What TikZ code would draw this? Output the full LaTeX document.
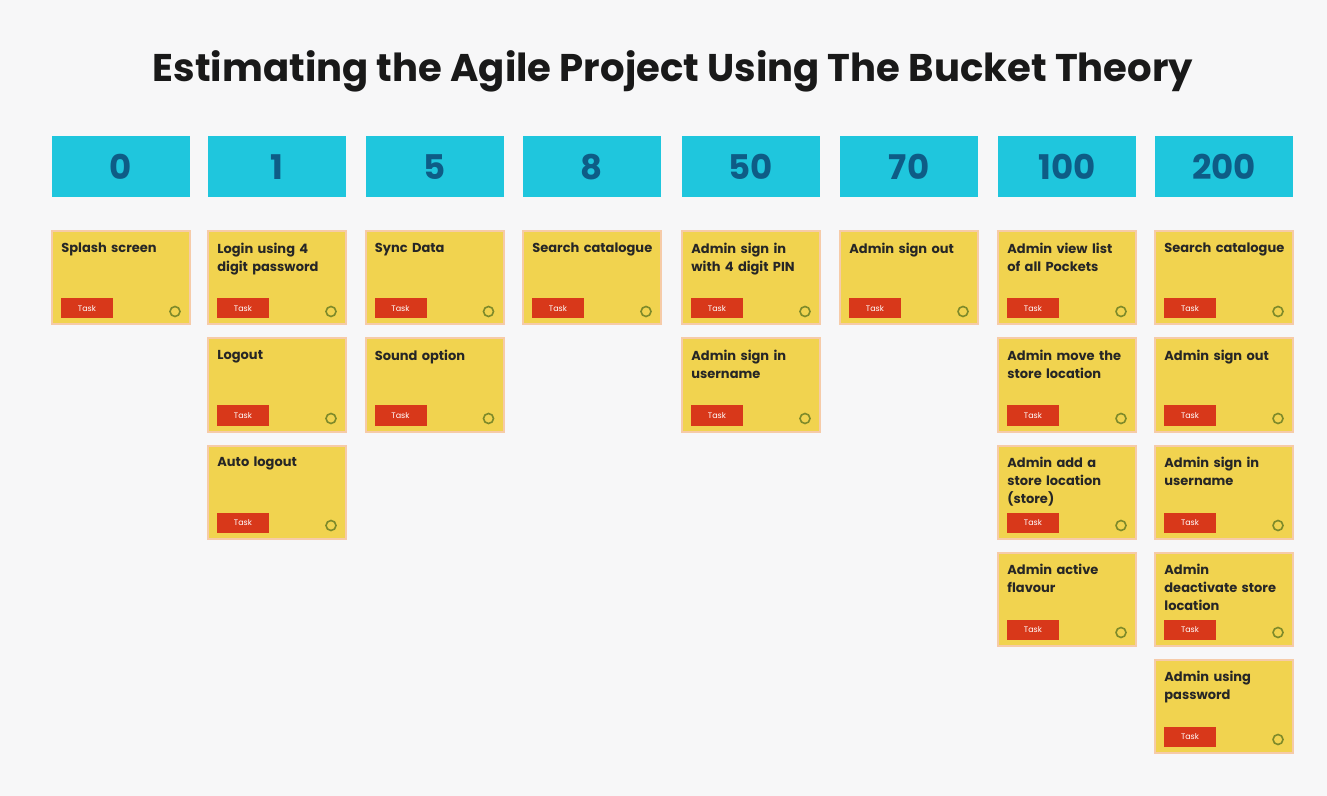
\documentclass[tikz,border=0pt]{standalone}
\usepackage{fontspec}
\setmainfont{Poppins}
\usetikzlibrary{positioning}
\hyphenpenalty=10000
\exhyphenpenalty=10000

\definecolor{pagebg}{HTML}{F7F7F8}
\definecolor{bucketcyan}{HTML}{1FC6DD}
\definecolor{bucketnum}{HTML}{0E5C86}
\definecolor{cardyellow}{HTML}{F1D34F}
\definecolor{cardedge}{HTML}{F6CBA8}
\definecolor{tagred}{HTML}{D8381A}
\definecolor{badgegreen}{HTML}{7E8A2A}

\tikzset{
	bucket/.style={fill=bucketcyan, minimum width=69pt, minimum height=30.5pt, inner sep=0pt,
		font=\bfseries\fontsize{17}{17}\selectfont, text=bucketnum},
	card/.style={fill=cardyellow, draw=cardedge, line width=1pt, minimum width=69pt,
		minimum height=46.5pt, inner sep=0pt},
	cardtext/.style={anchor=north west, inner sep=0pt, text width=60pt, align=left,
		font=\bfseries\fontsize{6.5}{9}\selectfont, text=black!85},
	tag/.style={fill=tagred, minimum width=26pt, minimum height=10pt, inner sep=0pt,
		font=\fontsize{4}{4}\selectfont, text=white},
	badge/.style={circle, draw=badgegreen, line width=0.8pt, minimum size=5pt, inner sep=0pt},
}

\begin{document}
\begin{tikzpicture}[x=0.5pt,y=-0.5pt]
	\fill[pagebg] (0,0) rectangle (1327,796);
	\useasboundingbox (0,0) rectangle (1327,796);

	\node[font=\bfseries\fontsize{19.3}{19.3}\selectfont, text=black!90] (title) at (673,71)
		{Estimating the Agile Project Using The Bucket Theory};

	% buckets
	\foreach \nm/\cx/\lbl in {b0/121/0, b1/277/1, b5/434.5/5, b8/592/8, b50/751/50,
		b70/909/70, b100/1067/100, b200/1224/200}
		\node[bucket] (\nm) at (\cx,167) {\lbl};

	% stories
	\foreach \nm/\cx/\cy/\txt in {
		c0a/121/278/Splash screen,
		c1a/277/278/Login using 4 digit password,
		c1b/277/385/Logout,
		c1c/277/492/Auto logout,
		c5a/434.5/278/Sync Data,
		c5b/434.5/385/Sound option,
		c8a/592/278/Search catalogue,
		c50a/751/278/Admin sign in with 4 digit PIN,
		c50b/751/385/Admin sign in username,
		c70a/909/278/Admin sign out,
		c100a/1067/278/Admin view list of all Pockets,
		c100b/1067/385/Admin move the store location,
		c100c/1067/492/Admin add a store location (store),
		c100d/1067/599/Admin active flavour,
		c200a/1224/278/Search catalogue,
		c200b/1224/385/Admin sign out,
		c200c/1224/492/Admin sign in username,
		c200d/1224/599/Admin deactivate store location,
		c200e/1224/706/Admin using password}
	{
		\node[card] (\nm) at (\cx,\cy) {};
		\node[cardtext] (\nm-t) at ([xshift=5pt,yshift=-6pt]\nm.north west) {\txt};
		\node[tag] (\nm-tag) at ([xshift=18pt,yshift=8.5pt]\nm.south west) {Task};
		\node[badge] (\nm-i) at ([xshift=-8pt,yshift=7pt]\nm.south east) {};
	}
\end{tikzpicture}
\end{document}
